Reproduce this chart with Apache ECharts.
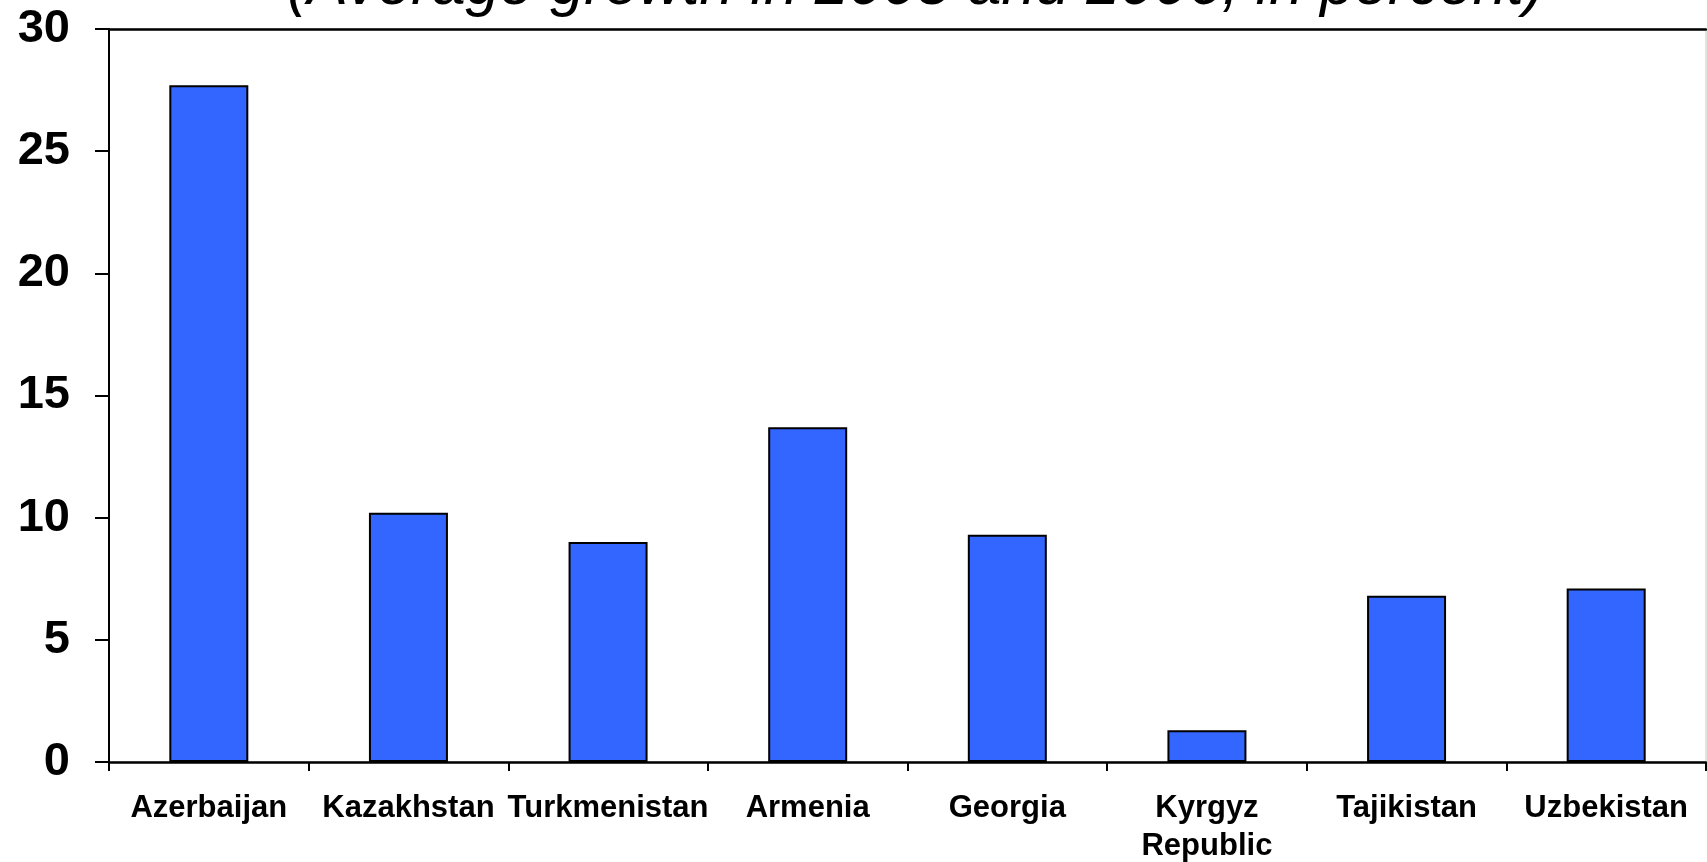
<!DOCTYPE html>
<html>
<head>
<meta charset="utf-8">
<script src="https://cdn.jsdelivr.net/npm/echarts@6/dist/echarts.min.js"></script>
<style>
  html, body { margin: 0; padding: 0; background: #fff; }
  #chart { width: 1707px; height: 862px; }
</style>
</head>
<body>
<div id="chart"></div>
<script>
// Real GDP growth by country
const countries = ['Azerbaijan', 'Kazakhstan', 'Turkmenistan', 'Armenia', 'Georgia', 'Kyrgyz\nRepublic', 'Tajikistan', 'Uzbekistan'];
const growth = [27.7, 10.2, 9.0, 13.7, 9.3, 1.3, 6.8, 7.1];
const yTicks = [0, 5, 10, 15, 20, 25, 30];
const subtitle = '(Average growth in 2005 and 2006, in percent)';

const FONT = '"Liberation Sans", Arial, sans-serif';

const chart = echarts.init(document.getElementById('chart'), null, { renderer: 'canvas' });

chart.setOption({
  backgroundColor: '#ffffff',
  animation: false,
  graphic: [{
    type: 'text',
    left: 287,
    top: -43,
    style: {
      text: subtitle,
      font: 'italic 61px ' + FONT,
      fill: '#000'
    }
  }],
  grid: {
    left: 109,
    right: 1,
    top: 29,
    bottom: 100,
    outerBoundsMode: 'none',
    containLabel: false,
    show: true,
    borderColor: '#c8c8c8',
    borderWidth: 1
  },
  xAxis: [{
    type: 'category',
    data: countries,
    boundaryGap: true,
    axisLine: { show: true, lineStyle: { color: '#000', width: 2.5 } },
    axisTick: { show: true, length: 9, alignWithLabel: false, lineStyle: { color: '#000', width: 2 } },
    axisLabel: {
      interval: 0,
      margin: 27,
      color: '#000',
      fontFamily: FONT,
      fontWeight: 'bold',
      fontSize: 31,
      lineHeight: 38
    },
    splitLine: { show: false }
  }, {
    type: 'category',
    position: 'top',
    data: countries,
    axisLine: { show: true, lineStyle: { color: '#000', width: 2.5 } },
    axisTick: { show: false },
    axisLabel: { show: false },
    splitLine: { show: false }
  }],
  yAxis: {
    type: 'value',
    min: yTicks[0],
    max: yTicks[yTicks.length - 1],
    interval: yTicks[1] - yTicks[0],
    axisLine: { show: true, lineStyle: { color: '#000', width: 2 } },
    axisTick: { show: true, length: 14, lineStyle: { color: '#000', width: 2 } },
    axisLabel: {
      margin: 39,
      color: '#000',
      fontFamily: FONT,
      fontWeight: 'bold',
      fontSize: 47
    },
    splitLine: { show: false }
  },
  series: [{
    type: 'bar',
    data: growth,
    barWidth: 79,
    itemStyle: {
      color: '#3366FF',
      borderColor: '#000',
      borderWidth: 2
    }
  }]
});
</script>
</body>
</html>
